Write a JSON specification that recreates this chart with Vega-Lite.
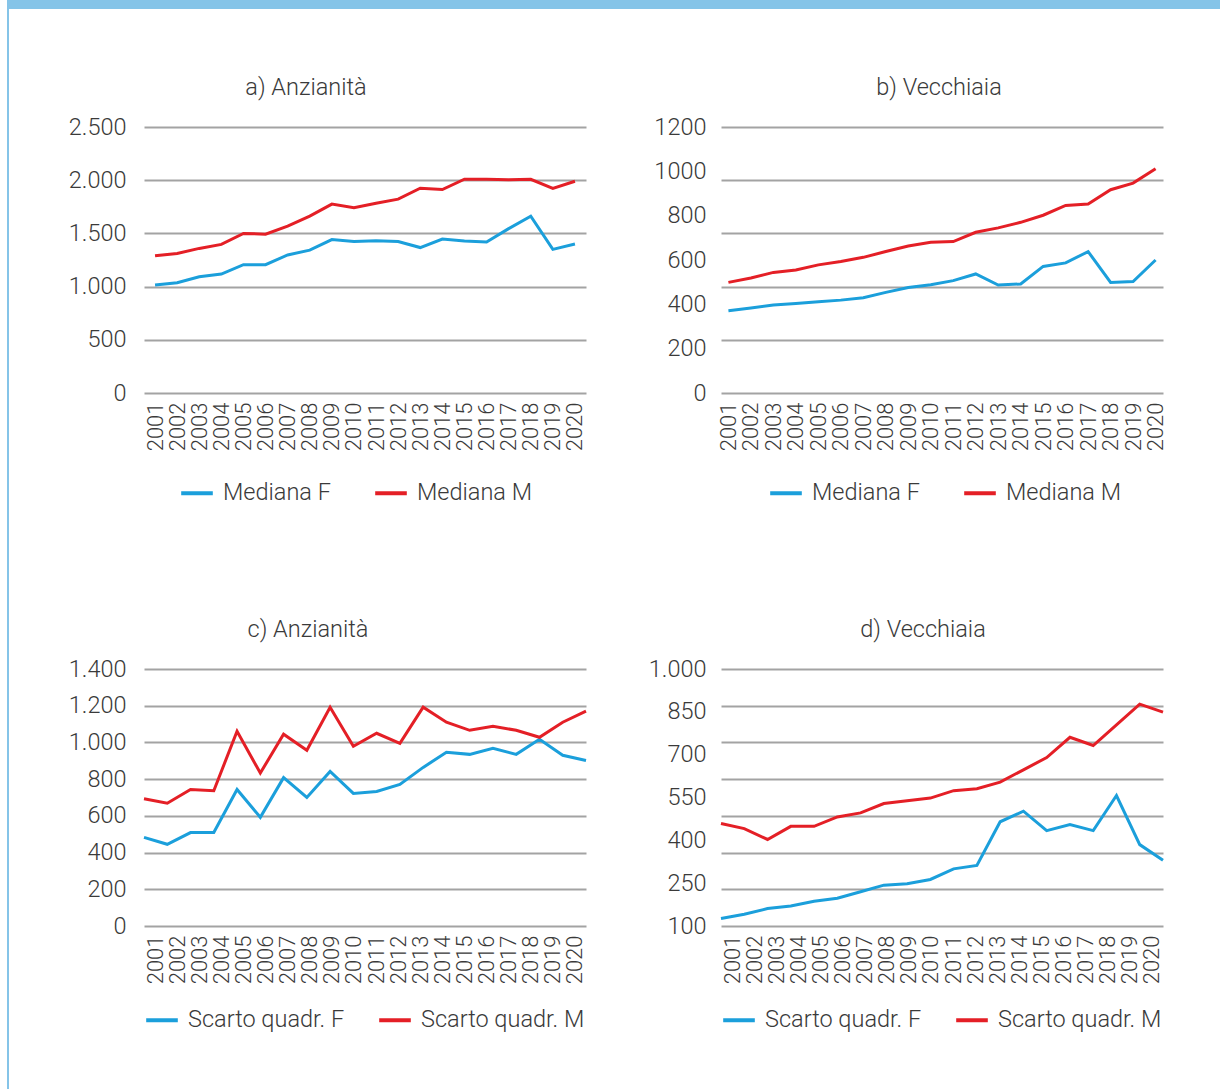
{
  "$schema": "https://vega.github.io/schema/vega-lite/v6.json",
  "padding": {"left": 7, "top": 0, "right": 0, "bottom": 0},
  "bounds": "flush",
  "spacing": 127,
  "resolve": {"scale": {"color": "independent"}, "legend": {"color": "independent"}},
  "datasets": {
    "cornice": [{"elemento": "cornice"}],
    "a": [
      {"anno":"2001","serie":"Mediana F","valore":1015},{"anno":"2002","serie":"Mediana F","valore":1037},{"anno":"2003","serie":"Mediana F","valore":1093},{"anno":"2004","serie":"Mediana F","valore":1118},{"anno":"2005","serie":"Mediana F","valore":1206},{"anno":"2006","serie":"Mediana F","valore":1206},{"anno":"2007","serie":"Mediana F","valore":1297},{"anno":"2008","serie":"Mediana F","valore":1343},{"anno":"2009","serie":"Mediana F","valore":1442},{"anno":"2010","serie":"Mediana F","valore":1423},{"anno":"2011","serie":"Mediana F","valore":1432},{"anno":"2012","serie":"Mediana F","valore":1423},{"anno":"2013","serie":"Mediana F","valore":1367},{"anno":"2014","serie":"Mediana F","valore":1447},{"anno":"2015","serie":"Mediana F","valore":1428},{"anno":"2016","serie":"Mediana F","valore":1420},{"anno":"2017","serie":"Mediana F","valore":1545},{"anno":"2018","serie":"Mediana F","valore":1662},{"anno":"2019","serie":"Mediana F","valore":1350},{"anno":"2020","serie":"Mediana F","valore":1400},
      {"anno":"2001","serie":"Mediana M","valore":1290},{"anno":"2002","serie":"Mediana M","valore":1312},{"anno":"2003","serie":"Mediana M","valore":1359},{"anno":"2004","serie":"Mediana M","valore":1397},{"anno":"2005","serie":"Mediana M","valore":1500},{"anno":"2006","serie":"Mediana M","valore":1493},{"anno":"2007","serie":"Mediana M","valore":1568},{"anno":"2008","serie":"Mediana M","valore":1662},{"anno":"2009","serie":"Mediana M","valore":1775},{"anno":"2010","serie":"Mediana M","valore":1742},{"anno":"2011","serie":"Mediana M","valore":1784},{"anno":"2012","serie":"Mediana M","valore":1822},{"anno":"2013","serie":"Mediana M","valore":1925},{"anno":"2014","serie":"Mediana M","valore":1912},{"anno":"2015","serie":"Mediana M","valore":2009},{"anno":"2016","serie":"Mediana M","valore":2009},{"anno":"2017","serie":"Mediana M","valore":2004},{"anno":"2018","serie":"Mediana M","valore":2009},{"anno":"2019","serie":"Mediana M","valore":1922},{"anno":"2020","serie":"Mediana M","valore":1990}
    ],
    "b": [
      {"anno":"2001","serie":"Mediana F","valore":371},{"anno":"2002","serie":"Mediana F","valore":383},{"anno":"2003","serie":"Mediana F","valore":397},{"anno":"2004","serie":"Mediana F","valore":404},{"anno":"2005","serie":"Mediana F","valore":412},{"anno":"2006","serie":"Mediana F","valore":419},{"anno":"2007","serie":"Mediana F","valore":430},{"anno":"2008","serie":"Mediana F","valore":454},{"anno":"2009","serie":"Mediana F","valore":476},{"anno":"2010","serie":"Mediana F","valore":488},{"anno":"2011","serie":"Mediana F","valore":507},{"anno":"2012","serie":"Mediana F","valore":537},{"anno":"2013","serie":"Mediana F","valore":487},{"anno":"2014","serie":"Mediana F","valore":492},{"anno":"2015","serie":"Mediana F","valore":571},{"anno":"2016","serie":"Mediana F","valore":587},{"anno":"2017","serie":"Mediana F","valore":638},{"anno":"2018","serie":"Mediana F","valore":499},{"anno":"2019","serie":"Mediana F","valore":503},{"anno":"2020","serie":"Mediana F","valore":600},
      {"anno":"2001","serie":"Mediana M","valore":499},{"anno":"2002","serie":"Mediana M","valore":519},{"anno":"2003","serie":"Mediana M","valore":544},{"anno":"2004","serie":"Mediana M","valore":555},{"anno":"2005","serie":"Mediana M","valore":578},{"anno":"2006","serie":"Mediana M","valore":593},{"anno":"2007","serie":"Mediana M","valore":612},{"anno":"2008","serie":"Mediana M","valore":638},{"anno":"2009","serie":"Mediana M","valore":663},{"anno":"2010","serie":"Mediana M","valore":680},{"anno":"2011","serie":"Mediana M","valore":683},{"anno":"2012","serie":"Mediana M","valore":725},{"anno":"2013","serie":"Mediana M","valore":745},{"anno":"2014","serie":"Mediana M","valore":770},{"anno":"2015","serie":"Mediana M","valore":802},{"anno":"2016","serie":"Mediana M","valore":846},{"anno":"2017","serie":"Mediana M","valore":853},{"anno":"2018","serie":"Mediana M","valore":917},{"anno":"2019","serie":"Mediana M","valore":947},{"anno":"2020","serie":"Mediana M","valore":1012}
    ],
    "c": [
      {"anno":"2001","serie":"Scarto quadr. F","valore":483},{"anno":"2002","serie":"Scarto quadr. F","valore":445},{"anno":"2003","serie":"Scarto quadr. F","valore":509},{"anno":"2004","serie":"Scarto quadr. F","valore":509},{"anno":"2005","serie":"Scarto quadr. F","valore":744},{"anno":"2006","serie":"Scarto quadr. F","valore":592},{"anno":"2007","serie":"Scarto quadr. F","valore":808},{"anno":"2008","serie":"Scarto quadr. F","valore":700},{"anno":"2009","serie":"Scarto quadr. F","valore":842},{"anno":"2010","serie":"Scarto quadr. F","valore":722},{"anno":"2011","serie":"Scarto quadr. F","valore":733},{"anno":"2012","serie":"Scarto quadr. F","valore":771},{"anno":"2013","serie":"Scarto quadr. F","valore":864},{"anno":"2014","serie":"Scarto quadr. F","valore":946},{"anno":"2015","serie":"Scarto quadr. F","valore":935},{"anno":"2016","serie":"Scarto quadr. F","valore":968},{"anno":"2017","serie":"Scarto quadr. F","valore":935},{"anno":"2018","serie":"Scarto quadr. F","valore":1017},{"anno":"2019","serie":"Scarto quadr. F","valore":930},{"anno":"2020","serie":"Scarto quadr. F","valore":902},
      {"anno":"2001","serie":"Scarto quadr. M","valore":693},{"anno":"2002","serie":"Scarto quadr. M","valore":669},{"anno":"2003","serie":"Scarto quadr. M","valore":744},{"anno":"2004","serie":"Scarto quadr. M","valore":737},{"anno":"2005","serie":"Scarto quadr. M","valore":1061},{"anno":"2006","serie":"Scarto quadr. M","valore":833},{"anno":"2007","serie":"Scarto quadr. M","valore":1045},{"anno":"2008","serie":"Scarto quadr. M","valore":957},{"anno":"2009","serie":"Scarto quadr. M","valore":1192},{"anno":"2010","serie":"Scarto quadr. M","valore":979},{"anno":"2011","serie":"Scarto quadr. M","valore":1050},{"anno":"2012","serie":"Scarto quadr. M","valore":995},{"anno":"2013","serie":"Scarto quadr. M","valore":1192},{"anno":"2014","serie":"Scarto quadr. M","valore":1110},{"anno":"2015","serie":"Scarto quadr. M","valore":1066},{"anno":"2016","serie":"Scarto quadr. M","valore":1088},{"anno":"2017","serie":"Scarto quadr. M","valore":1066},{"anno":"2018","serie":"Scarto quadr. M","valore":1028},{"anno":"2019","serie":"Scarto quadr. M","valore":1110},{"anno":"2020","serie":"Scarto quadr. M","valore":1170}
    ],
    "d": [
      {"anno":"2001","serie":"Scarto quadr. F","valore":126},{"anno":"2002","serie":"Scarto quadr. F","valore":141},{"anno":"2003","serie":"Scarto quadr. F","valore":161},{"anno":"2004","serie":"Scarto quadr. F","valore":170},{"anno":"2005","serie":"Scarto quadr. F","valore":187},{"anno":"2006","serie":"Scarto quadr. F","valore":197},{"anno":"2007","serie":"Scarto quadr. F","valore":220},{"anno":"2008","serie":"Scarto quadr. F","valore":243},{"anno":"2009","serie":"Scarto quadr. F","valore":248},{"anno":"2010","serie":"Scarto quadr. F","valore":263},{"anno":"2011","serie":"Scarto quadr. F","valore":300},{"anno":"2012","serie":"Scarto quadr. F","valore":312},{"anno":"2013","serie":"Scarto quadr. F","valore":465},{"anno":"2014","serie":"Scarto quadr. F","valore":502},{"anno":"2015","serie":"Scarto quadr. F","valore":434},{"anno":"2016","serie":"Scarto quadr. F","valore":455},{"anno":"2017","serie":"Scarto quadr. F","valore":434},{"anno":"2018","serie":"Scarto quadr. F","valore":557},{"anno":"2019","serie":"Scarto quadr. F","valore":385},{"anno":"2020","serie":"Scarto quadr. F","valore":330},
      {"anno":"2001","serie":"Scarto quadr. M","valore":459},{"anno":"2002","serie":"Scarto quadr. M","valore":441},{"anno":"2003","serie":"Scarto quadr. M","valore":403},{"anno":"2004","serie":"Scarto quadr. M","valore":449},{"anno":"2005","serie":"Scarto quadr. M","valore":449},{"anno":"2006","serie":"Scarto quadr. M","valore":482},{"anno":"2007","serie":"Scarto quadr. M","valore":496},{"anno":"2008","serie":"Scarto quadr. M","valore":529},{"anno":"2009","serie":"Scarto quadr. M","valore":539},{"anno":"2010","serie":"Scarto quadr. M","valore":548},{"anno":"2011","serie":"Scarto quadr. M","valore":574},{"anno":"2012","serie":"Scarto quadr. M","valore":581},{"anno":"2013","serie":"Scarto quadr. M","valore":604},{"anno":"2014","serie":"Scarto quadr. M","valore":647},{"anno":"2015","serie":"Scarto quadr. M","valore":690},{"anno":"2016","serie":"Scarto quadr. M","valore":761},{"anno":"2017","serie":"Scarto quadr. M","valore":732},{"anno":"2018","serie":"Scarto quadr. M","valore":804},{"anno":"2019","serie":"Scarto quadr. M","valore":877},{"anno":"2020","serie":"Scarto quadr. M","valore":849}
    ]
  },
  "vconcat": [
    {
      "bounds": "flush",
      "spacing": 0,
      "hconcat": [
        {
          "width": 2, "height": 127,
          "data": {"name": "cornice"},
          "mark": {"type": "rect", "color": "#85C4E8"},
          "encoding": {},
          "view": {"fill": "#85C4E8", "stroke": null}
        },
        {
          "width": 1211, "height": 9,
          "data": {"name": "cornice"},
          "mark": {"type": "rect", "color": "#85C4E8"},
          "encoding": {},
          "view": {"fill": "#85C4E8", "stroke": null}
        }
      ]
    },
    {
      "bounds": "flush",
      "spacing": 135,
      "resolve": {"scale": {"color": "independent"}, "legend": {"color": "independent"}},
      "hconcat": [
        {
          "width": 2, "height": 962,
          "data": {"name": "cornice"},
          "mark": {"type": "rect", "color": "#85C4E8"},
          "encoding": {},
          "view": {"fill": "#85C4E8", "stroke": null}
        },
        {
          "columns": 2,
          "bounds": "flush",
          "spacing": {"row": 276, "column": 135},
          "resolve": {"scale": {"color": "independent"}, "legend": {"color": "independent"}},
          "concat": [
            {
              "width": 442, "height": 266,
              "title": {"text": "a) Anzianità", "frame": "group", "dx": -59},
              "data": {"name": "a"},
              "mark": {"type": "line", "strokeWidth": 3},
              "encoding": {
                "x": {"field": "anno", "type": "ordinal", "scale": {"type": "point", "padding": 0.5}},
                "y": {"field": "valore", "type": "quantitative", "scale": {"domain": [0, 2500]}, "axis": {"values": [0, 500, 1000, 1500, 2000, 2500], "format": ",d"}},
                "color": {"field": "serie", "type": "nominal", "scale": {"domain": ["Mediana F", "Mediana M"], "range": ["#1B9FDB", "#E41F26"]}, "legend": {"title": null, "orient": "none", "legendX": 35, "legendY": 348}}
              }
            },
            {
              "width": 442, "height": 266,
              "title": {"text": "b) Vecchiaia", "frame": "group", "dx": -3},
              "data": {"name": "b"},
              "mark": {"type": "line", "strokeWidth": 3},
              "encoding": {
                "x": {"field": "anno", "type": "ordinal", "scale": {"type": "point", "padding": 0.33}},
                "y": {"field": "valore", "type": "quantitative", "scale": {"domain": [0, 1200]},
                  "axis": {"values": [0, 200, 240, 400, 480, 600, 720, 800, 960, 1000, 1200], "format": "d", "labelOverlap": false, "labelPadding": 15,
                    "labelExpr": "datum.value % 200 === 0 ? datum.label : ''",
                    "gridOpacity": {"condition": {"test": "datum.value % 240 === 0", "value": 1}, "value": 0}}},
                "color": {"field": "serie", "type": "nominal", "scale": {"domain": ["Mediana F", "Mediana M"], "range": ["#1B9FDB", "#E41F26"]}, "legend": {"title": null, "orient": "none", "legendX": 47, "legendY": 348}}
              }
            },
            {
              "width": 442, "height": 257,
              "title": {"text": "c) Anzianità", "frame": "group", "dx": -57},
              "data": {"name": "c"},
              "encoding": {
                "y": {"field": "valore", "type": "quantitative", "scale": {"domain": [0, 1400]}, "axis": {"values": [0, 200, 400, 600, 800, 1000, 1200, 1400], "format": ",d"}}
              },
              "layer": [
                {
                  "mark": {"type": "line", "strokeWidth": 3},
                  "encoding": {
                    "x": {"field": "anno", "type": "ordinal", "scale": {"type": "point", "padding": 0}, "axis": null},
                    "color": {"field": "serie", "type": "nominal", "scale": {"domain": ["Scarto quadr. F", "Scarto quadr. M"], "range": ["#1B9FDB", "#E41F26"]}, "legend": {"title": null, "offset": 18, "columnPadding": 26}}
                  }
                },
                {
                  "mark": {"type": "line", "strokeOpacity": 0},
                  "encoding": {
                    "x": {"field": "anno", "type": "ordinal", "scale": {"type": "point", "padding": 0.5}, "axis": {"orient": "bottom"}},
                    "detail": {"field": "serie"}
                  }
                }
              ],
              "resolve": {"scale": {"x": "independent"}}
            },
            {
              "width": 442, "height": 257,
              "title": {"text": "d) Vecchiaia", "frame": "group", "dx": -19},
              "data": {"name": "d"},
              "encoding": {
                "y": {"field": "valore", "type": "quantitative", "scale": {"domain": [100, 1000]},
                  "axis": {"values": [100, 228.5714, 250, 357.1429, 400, 485.7143, 550, 614.2857, 700, 742.8571, 850, 871.4286, 1000], "format": ",d", "labelOverlap": false, "labelPadding": 15,
                    "labelExpr": "abs((datum.value - 100) / 150 - round((datum.value - 100) / 150)) < 0.001 ? datum.label : ''",
                    "gridOpacity": {"condition": {"test": "abs((datum.value - 100) * 7 / 900 - round((datum.value - 100) * 7 / 900)) < 0.001", "value": 1}, "value": 0}}}
              },
              "layer": [
                {
                  "mark": {"type": "line", "strokeWidth": 3},
                  "encoding": {
                    "x": {"field": "anno", "type": "ordinal", "scale": {"type": "point", "padding": 0}, "axis": null},
                    "color": {"field": "serie", "type": "nominal", "scale": {"domain": ["Scarto quadr. F", "Scarto quadr. M"], "range": ["#1B9FDB", "#E41F26"]}, "legend": {"title": null, "offset": 18, "columnPadding": 26}}
                  }
                },
                {
                  "mark": {"type": "line", "strokeOpacity": 0},
                  "encoding": {
                    "x": {"field": "anno", "type": "ordinal", "scale": {"type": "point", "padding": 0.5}, "axis": {"orient": "bottom"}},
                    "detail": {"field": "serie"}
                  }
                }
              ],
              "resolve": {"scale": {"x": "independent"}}
            }
          ]
        }
      ]
    }
  ],
  "config": {
    "locale": {"number": {"decimal": ",", "thousands": ".", "grouping": [3], "currency": ["€", ""]}},
    "font": "Roboto",
    "view": {"stroke": null},
    "title": {"font": "Roboto", "fontSize": 23.5, "fontWeight": 300, "color": "#3A3A3A", "offset": 16, "anchor": "middle"},
    "axis": {"title": null, "domain": false, "ticks": false, "labelFont": "Roboto", "labelFontWeight": 300, "labelColor": "#3A3A3A", "labelFontSize": 23.5},
    "axisX": {"grid": false, "labelAngle": 270, "labelFontSize": 22, "labelPadding": 9},
    "axisY": {"grid": true, "gridColor": "#A3A3A3", "gridWidth": 2, "labelPadding": 18},
    "legend": {"orient": "bottom", "direction": "horizontal", "title": null, "labelFont": "Roboto", "labelFontWeight": 300, "labelFontSize": 23.5, "labelColor": "#3A3A3A", "symbolType": "stroke", "symbolStrokeWidth": 4, "symbolSize": 1000, "columnPadding": 36, "labelOffset": 8, "offset": 14, "padding": 0, "labelLimit": 400}
  }
}
